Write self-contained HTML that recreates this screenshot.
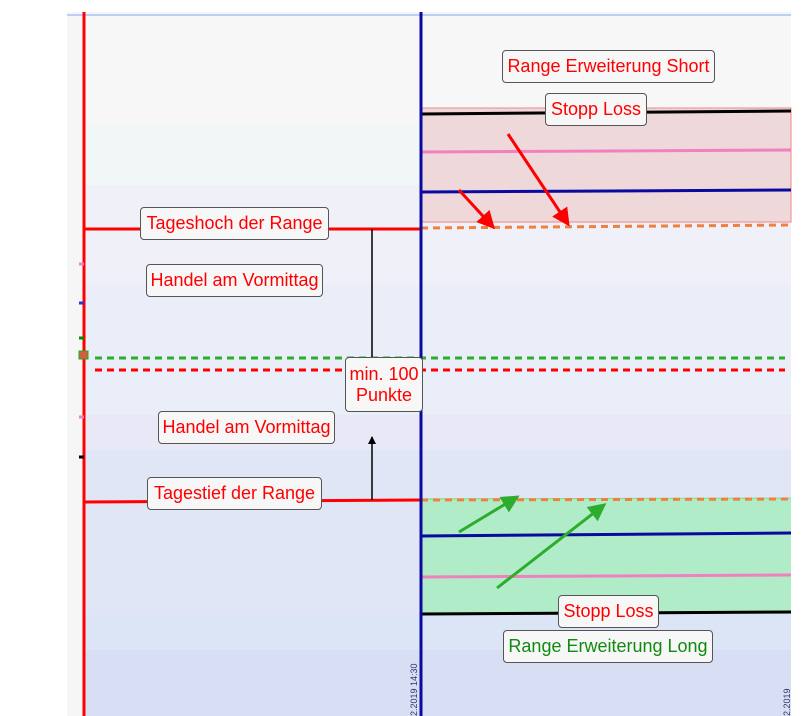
<!DOCTYPE html>
<html><head><meta charset="utf-8"><style>
body{margin:0;width:806px;height:716px;background:#fff;position:relative;overflow:hidden;font-family:"Liberation Sans",sans-serif}
.l{position:absolute;box-sizing:border-box;background:#f7f7f7;border:1.5px solid #555;border-radius:4px;color:#f00;font-size:18px;text-align:center;line-height:30px;white-space:nowrap}
</style></head><body>
<svg width="806" height="716" style="position:absolute;left:0;top:0">
<defs>
<marker id="ar" markerWidth="6" markerHeight="6" refX="5" refY="3" orient="auto" markerUnits="strokeWidth"><path d="M0,0L6,3L0,6z" fill="#f00"/></marker>
<marker id="ag" markerWidth="6" markerHeight="6" refX="5" refY="3" orient="auto" markerUnits="strokeWidth"><path d="M0,0L6,3L0,6z" fill="#2eac2e"/></marker>
<marker id="ak" markerWidth="8" markerHeight="8" refX="7" refY="4" orient="auto" markerUnits="userSpaceOnUse"><path d="M0,0L8,4L0,8z" fill="#000"/></marker>
</defs>
<rect x="67" y="12" width="724" height="704" fill="#f6f6f6"/>
<rect x="84" y="15" width="707" height="110" fill="#f7f7f7"/>
<rect x="84" y="125" width="707" height="60" fill="#f0f7f6"/>
<rect x="84" y="185" width="707" height="100" fill="#eff0f8"/>
<rect x="84" y="285" width="707" height="130" fill="#e9eef8"/>
<rect x="84" y="415" width="707" height="35" fill="#e9e8f6"/>
<rect x="84" y="450" width="707" height="165" fill="#e1e6f6"/>
<rect x="84" y="615" width="707" height="35" fill="#dbe5f6"/>
<rect x="84" y="650" width="707" height="66" fill="#d8dff5"/>
<line x1="67" y1="15" x2="791" y2="15" stroke="#a8c0f5" stroke-width="1.5"/>
<rect x="421" y="108" width="370" height="114" fill="#efd8da" stroke="#e88" stroke-width="1"/>
<rect x="421" y="498" width="370" height="116" fill="#b0ecc8"/>
<line x1="421" y1="114" x2="791" y2="111" stroke="#000" stroke-width="3"/>
<line x1="421" y1="152" x2="791" y2="150" stroke="#f080c0" stroke-width="3"/>
<line x1="421" y1="192" x2="791" y2="190" stroke="#0a0aa0" stroke-width="3"/>
<line x1="421" y1="228" x2="791" y2="225" stroke="#f08040" stroke-width="3" stroke-dasharray="7,5"/>
<line x1="421" y1="499" x2="791" y2="498" stroke="#7ce07c" stroke-width="1"/>
<line x1="421" y1="500" x2="791" y2="499" stroke="#f08040" stroke-width="3" stroke-dasharray="7,5"/>
<line x1="421" y1="536" x2="791" y2="533" stroke="#0a0aa0" stroke-width="3"/>
<line x1="421" y1="577" x2="791" y2="575" stroke="#f080c0" stroke-width="3"/>
<line x1="421" y1="614" x2="791" y2="612" stroke="#000" stroke-width="3"/>
<line x1="95" y1="358" x2="785" y2="358" stroke="#2eac2e" stroke-width="3" stroke-dasharray="7,5"/>
<line x1="95" y1="370" x2="785" y2="370" stroke="#f00" stroke-width="3" stroke-dasharray="7,5"/>
<line x1="84" y1="229" x2="421" y2="229" stroke="#f00" stroke-width="3"/>
<line x1="84" y1="502" x2="421" y2="500" stroke="#f00" stroke-width="3"/>
<line x1="84" y1="12" x2="84" y2="716" stroke="#f00" stroke-width="3"/>
<line x1="421" y1="12" x2="421" y2="716" stroke="#0a0aa0" stroke-width="3"/>
<line x1="372" y1="229" x2="372" y2="357" stroke="#000" stroke-width="1.5"/>
<line x1="372" y1="500" x2="372" y2="437" stroke="#000" stroke-width="1.5" marker-end="url(#ak)"/>
<line x1="508" y1="134" x2="568" y2="224" stroke="#f00" stroke-width="3" marker-end="url(#ar)"/>
<line x1="459" y1="190" x2="493" y2="227" stroke="#f00" stroke-width="3" marker-end="url(#ar)"/>
<line x1="459" y1="532" x2="517" y2="497" stroke="#2eac2e" stroke-width="3" marker-end="url(#ag)"/>
<line x1="497" y1="588" x2="604" y2="505" stroke="#2eac2e" stroke-width="3" marker-end="url(#ag)"/>
<rect x="79" y="351" width="9" height="8" fill="#d06040" stroke="#2a2" stroke-width="1"/>
<line x1="79" y1="264" x2="84" y2="264" stroke="#f080c0" stroke-width="3"/>
<line x1="79" y1="303" x2="84" y2="303" stroke="#33c" stroke-width="3"/>
<line x1="79" y1="338" x2="84" y2="338" stroke="#080" stroke-width="3"/>
<line x1="79" y1="417" x2="84" y2="417" stroke="#f080c0" stroke-width="3"/>
<line x1="79" y1="457" x2="84" y2="457" stroke="#000" stroke-width="3"/>
<text x="0" y="0" transform="translate(417,716) rotate(-90)" font-size="9" fill="#336">2.2019 14:30</text>
<text x="0" y="0" transform="translate(790,716) rotate(-90)" font-size="9" fill="#336">2.2019</text>
</svg>
<div class="l" style="left:140px;top:207px;width:189px;height:33px">Tageshoch der Range</div>
<div class="l" style="left:146px;top:264px;width:177px;height:33px">Handel am Vormittag</div>
<div class="l" style="left:158px;top:411px;width:177px;height:33px">Handel am Vormittag</div>
<div class="l" style="left:147px;top:477px;width:175px;height:33px">Tagestief der Range</div>
<div class="l" style="left:345px;top:357px;width:78px;height:55px;line-height:21px;padding-top:6px">min. 100<br>Punkte</div>
<div class="l" style="left:502px;top:50px;width:213px;height:33px">Range Erweiterung Short</div>
<div class="l" style="left:545px;top:93px;width:102px;height:33px">Stopp Loss</div>
<div class="l" style="left:558px;top:595px;width:101px;height:33px">Stopp Loss</div>
<div class="l" style="left:503px;top:630px;width:210px;height:33px;color:#108a10">Range Erweiterung Long</div>
</body></html>
